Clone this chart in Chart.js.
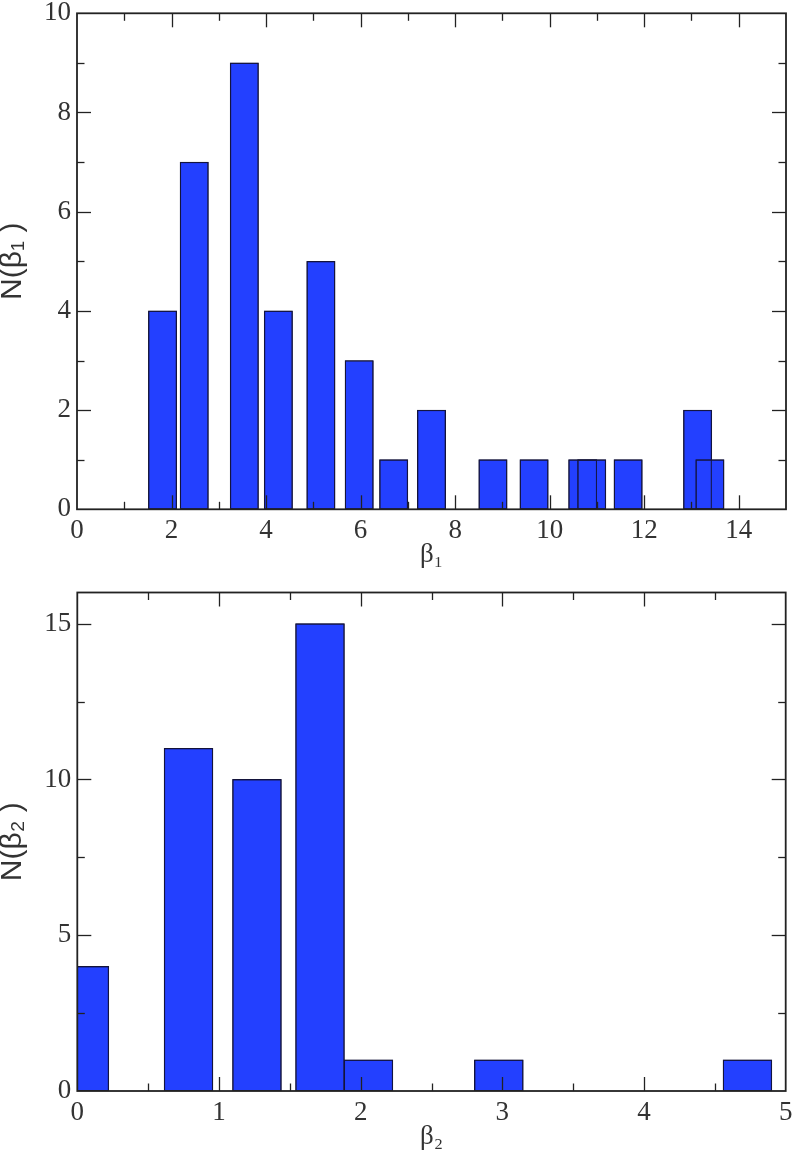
<!DOCTYPE html>
<html>
<head>
<meta charset="utf-8">
<script src="https://cdn.jsdelivr.net/npm/chart.js@4.4.1/dist/chart.umd.min.js"></script>
<style>
html,body{margin:0;padding:0;background:#fff;}
#wrap{position:relative;width:796px;height:1160px;overflow:hidden;}
canvas{position:absolute;left:0;display:block;}
</style>
</head>
<body>
<div id="wrap">
  <canvas id="c1" width="796" height="585" style="top:0;width:796px;height:585px"></canvas>
  <canvas id="c2" width="796" height="575" style="top:585px;width:796px;height:575px"></canvas>
</div>
<script>
// ---------- Panel 1 : distribution of beta_1 ----------
const beta1Centers = [1.81, 2.48, 3.54, 4.26, 5.16, 5.97, 6.70, 7.50, 8.80, 9.67, 10.70, 10.89, 11.66, 13.13, 13.39];
const beta1Counts  = [4, 7, 9, 4, 5, 3, 1, 2, 1, 1, 1, 1, 1, 2, 1];
const beta1BinWidth = 0.6;
const beta1XLimits = [0, 15];
const beta1XSteps  = [2, 1];     // major, minor
const beta1YLimits = [0, 10];
const beta1YSteps  = [2, 1];
const beta1XTitle = 'β₁';
const beta1YTitle = 'N(β₁ )';

// ---------- Panel 2 : distribution of beta_2 ----------
const beta2Centers = [0.05, 0.785, 1.268, 1.713, 2.055, 2.975, 4.73];
const beta2Counts  = [4, 11, 10, 15, 1, 1, 1];
const beta2BinWidth = 0.345;
const beta2XLimits = [0, 5];
const beta2XSteps  = [1, 0.5];
const beta2YLimits = [0, 16];
const beta2YSteps  = [5, 2.5];
const beta2XTitle = 'β₂';
const beta2YTitle = 'N(β₂ )';

const BAR_FILL = '#2340ff';
const BAR_EDGE = '#14143c';
const AXIS_COL = '#222222';
const TEXT_COL = '#333333';

const frameTicks = {
  id: 'frameTicks',
  afterDatasetsDraw(chart, args, opts) {
    const {ctx, chartArea: a} = chart;
    const x = chart.scales.x, y = chart.scales.y;
    ctx.save();
    // re-stroke every bar outline (from the library's bar elements) so overlapping bins keep their edges
    ctx.beginPath();
    ctx.rect(a.left, a.top, a.right - a.left, a.bottom - a.top);
    ctx.clip();
    ctx.strokeStyle = BAR_EDGE;
    ctx.lineWidth = 1;
    chart.getDatasetMeta(0).data.forEach(el => {
      const p = el.getProps(['x', 'y', 'base', 'width'], true);
      ctx.strokeRect(p.x - p.width / 2 + 0.5, p.y + 0.5, p.width - 1, p.base - p.y - 1);
    });
    ctx.restore();

    ctx.save();
    ctx.strokeStyle = AXIS_COL;
    ctx.lineWidth = 1.3;
    const seg = (x1, y1, x2, y2) => { ctx.beginPath(); ctx.moveTo(x1, y1); ctx.lineTo(x2, y2); ctx.stroke(); };
    const near = (v, w) => Math.abs(v - w) < 1e-6;
    const tickSet = (scale, minorStep) => {
      const majors = scale.ticks.map(t => t.value);
      const out = [];
      const k0 = Math.ceil(scale.min / minorStep - 1e-9), k1 = Math.floor(scale.max / minorStep + 1e-9);
      for (let k = k0; k <= k1; k++) {
        const v = k * minorStep;
        if (near(v, scale.min) || near(v, scale.max)) continue;
        out.push([v, majors.some(m => near(m, v))]);
      }
      return out;
    };
    const MAJ = 14, MIN = 7.5;
    tickSet(x, opts.xMinor).forEach(([v, isMaj]) => {
      const p = Math.round(x.getPixelForValue(v)) + 0.5, L = isMaj ? MAJ : MIN;
      seg(p, a.bottom, p, a.bottom - L);
      seg(p, a.top, p, a.top + L);
    });
    tickSet(y, opts.yMinor).forEach(([v, isMaj]) => {
      const p = Math.round(y.getPixelForValue(v)) + 0.5, L = isMaj ? MAJ : MIN;
      seg(a.left, p, a.left + L, p);
      seg(a.right, p, a.right - L, p);
    });
    ctx.lineWidth = 1.8;
    ctx.strokeRect(a.left, a.top, a.right - a.left, a.bottom - a.top);
    ctx.restore();
  }
};

function makeHistogram(canvasId, centers, counts, binWidth, xLim, xSteps, yLim, ySteps, xTitle, yTitle, geom) {
  const points = centers.map((c, i) => ({x: c, y: counts[i]}));
  const thickness = (ctx) => {
    const s = ctx.chart.scales.x;
    return s ? Math.abs(s.getPixelForValue(binWidth) - s.getPixelForValue(0)) : 20;
  };
  return new Chart(document.getElementById(canvasId), {
    type: 'bar',
    data: {
      datasets: [
        {data: points, backgroundColor: BAR_FILL, borderColor: BAR_EDGE, borderWidth: 1,
         borderSkipped: false, barThickness: thickness, clip: 0}
      ]
    },
    options: {
      responsive: false,
      devicePixelRatio: 1,
      animation: false,
      events: [],
      layout: {padding: {top: geom.top, right: geom.right, left: 0, bottom: 0}},
      plugins: {legend: {display: false}, tooltip: {enabled: false}, frameTicks: {xMinor: xSteps[1], yMinor: ySteps[1]}},
      scales: {
        x: {
          type: 'linear', min: xLim[0], max: xLim[1], offset: false,
          position: 'bottom',
          grid: {display: false, drawTicks: false},
          border: {display: false},
          ticks: {stepSize: xSteps[0], includeBounds: false, maxRotation: 0, autoSkip: false, padding: geom.xTickPad,
                  color: TEXT_COL, font: {family: '"Liberation Serif", "DejaVu Serif", serif', size: 27, lineHeight: 1}},
          title: {display: true, text: xTitle, color: TEXT_COL, padding: {top: 0, bottom: geom.xTitlePad},
                  font: {family: '"Liberation Serif", "DejaVu Serif", serif', size: 27, lineHeight: 1}},
          afterFit: (s) => { s.height = geom.xAxisH; s.paddingLeft = 0; s.paddingRight = 0; }
        },
        y: {
          type: 'linear', min: yLim[0], max: yLim[1],
          grid: {display: false, drawTicks: false},
          border: {display: false},
          ticks: {stepSize: ySteps[0], includeBounds: false, padding: 6, color: TEXT_COL,
                  font: {family: '"Liberation Serif", "DejaVu Serif", serif', size: 27, lineHeight: 1}},
          title: {display: true, text: yTitle, color: TEXT_COL, padding: {top: 0, bottom: 0},
                  font: {family: '"Liberation Sans", "DejaVu Sans", sans-serif', size: 30, lineHeight: 0.82}},
          afterFit: (s) => { s.width = geom.yAxisW; s.paddingTop = 0; s.paddingBottom = 0; }
        }
      }
    },
    plugins: [frameTicks]
  });
}

makeHistogram('c1', beta1Centers, beta1Counts, beta1BinWidth, beta1XLimits, beta1XSteps, beta1YLimits, beta1YSteps,
  beta1XTitle, beta1YTitle, {top: 13.3, right: 10, yAxisW: 77, xAxisH: 75.7, xTickPad: 8, xTitlePad: 17});
makeHistogram('c2', beta2Centers, beta2Counts, beta2BinWidth, beta2XLimits, beta2XSteps, beta2YLimits, beta2YSteps,
  beta2XTitle, beta2YTitle, {top: 7.5, right: 10.3, yAxisW: 77.3, xAxisH: 69, xTickPad: 8, xTitlePad: 10});
</script>
</body>
</html>
